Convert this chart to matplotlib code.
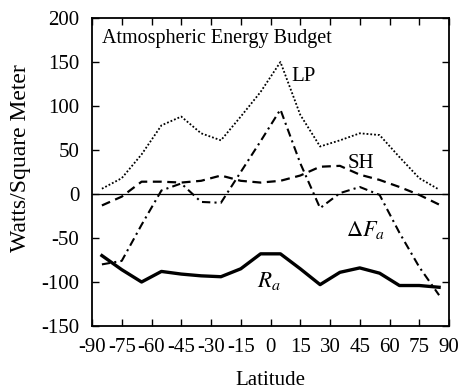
import numpy as np
import matplotlib
matplotlib.use('Agg')
import matplotlib.pyplot as plt

# latitudes de las bandas (centros cada 10 grados)
lat = [-85, -75, -65, -55, -45, -35, -25, -15, -5, 5, 15, 25, 35, 45, 55, 65, 75, 85]

# valores (W/m^2)
LP = [6, 18, 45, 78, 88, 69, 61, 88, 116, 150, 90, 54, 61, 69, 67, 42, 18, 5]
SH = [-13, -3, 14, 14, 13, 15, 21, 15, 13, 15, 21, 31, 32, 22, 16, 8, -1, -12]
dFa = [-80, -76, -35, 4, 12, -9, -10, 25, 60, 96, 35, -16, 1, 8, -1, -44, -83, -115]
Ra = [-70, -86, -100, -88, -91, -93, -94, -85, -68, -68, -85, -103, -89, -84, -90, -104, -104, -106]

xticks = list(range(-90, 91, 15))
yticks = list(range(-150, 201, 50))

plt.rcParams['font.family'] = ['Liberation Serif', 'DejaVu Serif']
plt.rcParams['mathtext.fontset'] = 'stix'

fig = plt.figure(figsize=(4.63, 3.92), dpi=100)
ax = fig.add_axes([0.1987, 0.1684, 0.7711, 0.7856])

ax.axhline(0, color='black', linewidth=0.9)
ax.plot(lat, LP, color='black', linestyle=(0, (1, 1.1)), linewidth=1.3)
ax.plot(lat, SH, color='black', linestyle=(0, (4, 2.5)), linewidth=1.6)
ax.plot(lat, dFa, color='black', linestyle=(0, (4, 2, 1, 2)), linewidth=1.5)
ax.plot(lat, Ra, color='black', linestyle='-', linewidth=2.4)

ax.text(16.5, 134, 'LP', fontsize=15, ha='center', va='center')
ax.text(45.5, 35, 'SH', fontsize=15, ha='center', va='center')
ax.text(48, -41, r'$\Delta F_a$', fontsize=16, ha='center', va='center')
ax.text(-1, -99, r'$R_a$', fontsize=16.5, ha='center', va='center')
ax.text(-85, 177, 'Atmospheric Energy Budget', fontsize=14.5, ha='left', va='center')

ax.set_xlim(-90, 90)
ax.set_ylim(-150, 200)
ax.set_xticks(xticks)
ax.set_yticks(yticks)
ax.set_xticklabels([str(t) for t in xticks])
ax.set_yticklabels([str(t) for t in yticks])
ax.tick_params(direction='in', length=5, width=1, top=True, right=True,
               labelsize=15, pad=9)
for s in ax.spines.values():
    s.set_linewidth(1.3)

ax.set_xlabel('Latitude', fontsize=15, labelpad=10)
ax.set_ylabel('Watts/Square Meter', fontsize=17)
ax.yaxis.set_label_coords(-0.17, 0.545)

fig.savefig('out.png', dpi=100)
